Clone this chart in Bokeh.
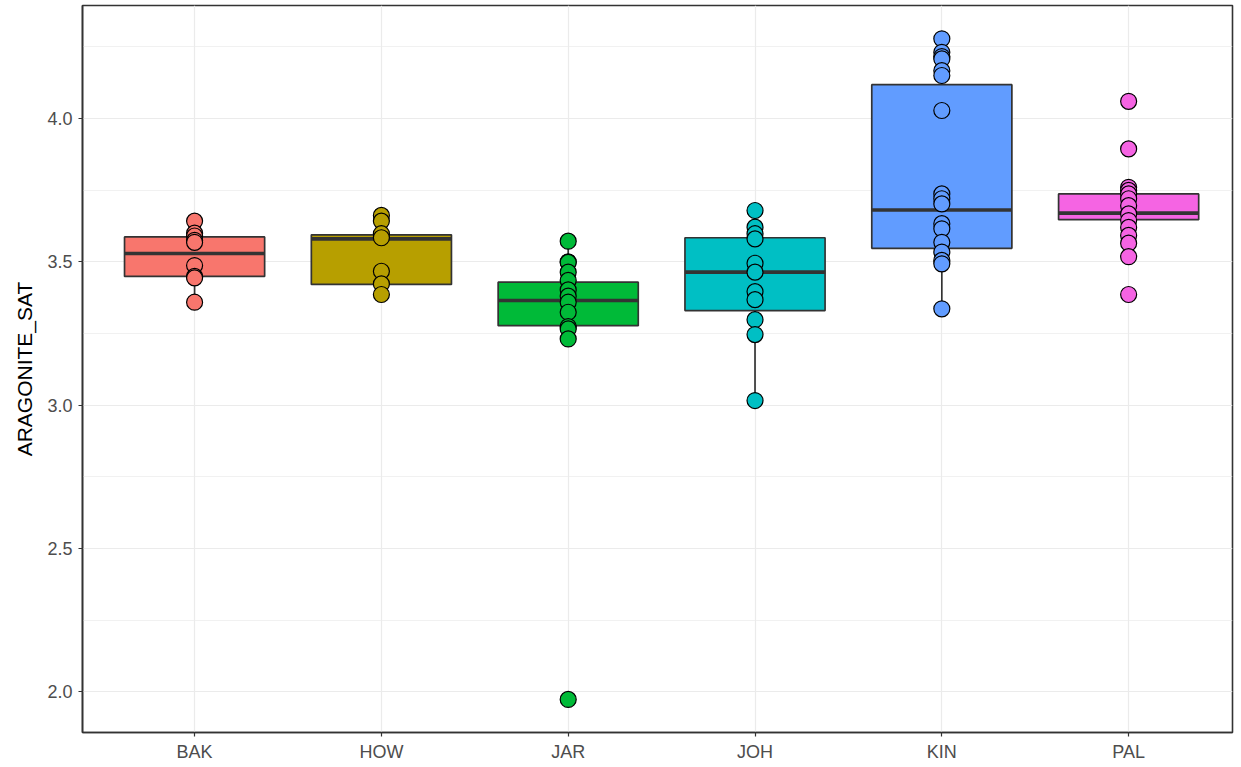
from bokeh.plotting import figure
from bokeh.models import FixedTicker, Range1d, ColumnDataSource
from bokeh.embed import file_html
from bokeh.resources import INLINE

# ---- data ----
sites = ["BAK", "HOW", "JAR", "JOH", "KIN", "PAL"]
colors = ["#F8766D", "#B79F00", "#00BA38", "#00BFC4", "#619CFF", "#F564E3"]

# box statistics
q1 = [3.449, 3.421, 3.277, 3.330, 3.547, 3.647]
median = [3.529, 3.580, 3.365, 3.464, 3.681, 3.670]
q3 = [3.587, 3.594, 3.429, 3.584, 4.118, 3.737]
whisker_low = [3.359, 3.386, 3.231, 3.016, 3.336, 3.518]
whisker_high = [3.642, 3.662, 3.572, 3.679, 4.278, 3.760]

# individual observations
bak_vals = [3.642, 3.600, 3.590, 3.575, 3.568, 3.487, 3.449, 3.444, 3.359]
how_vals = [3.662, 3.642, 3.598, 3.584, 3.467, 3.423, 3.386]
jar_vals = [3.572, 3.500, 3.498, 3.464, 3.435, 3.402, 3.380, 3.359, 3.324,
            3.274, 3.266, 3.231, 1.973]
joh_vals = [3.679, 3.621, 3.598, 3.580, 3.495, 3.464, 3.396, 3.368, 3.298,
            3.246, 3.016]
kin_vals = [4.278, 4.231, 4.216, 4.208, 4.167, 4.150, 4.028, 3.737, 3.720,
            3.702, 3.633, 3.615, 3.568, 3.534, 3.505, 3.493, 3.336]
pal_vals = [4.060, 3.894, 3.760, 3.749, 3.737, 3.720, 3.696, 3.667, 3.644,
            3.620, 3.592, 3.565, 3.518, 3.386]
site_vals = [bak_vals, how_vals, jar_vals, joh_vals, kin_vals, pal_vals]

y_ticks = [2.0, 2.5, 3.0, 3.5, 4.0]
y_minor = [2.25, 2.75, 3.25, 3.75, 4.25]

# ---- figure ----
FONT = "Liberation Sans"
p = figure(width=1240, height=766, output_backend="svg", toolbar_location=None,
           x_range=Range1d(0.4, 6.556), y_range=Range1d(1.8577, 4.3943),
           min_border_left=82, min_border_right=8, min_border_top=5,
           min_border_bottom=34)
p.background_fill_color = "white"
p.border_fill_color = "white"
p.outline_line_color = "#333333"
p.outline_line_width = 1.6

xpos = list(range(1, len(sites) + 1))
half = 0.375

box_src = ColumnDataSource(dict(
    x=xpos, q1=q1, med=median, q3=q3, lo=whisker_low, hi=whisker_high,
    left=[x - half for x in xpos], right=[x + half for x in xpos], color=colors))

# whiskers
p.segment(x0="x", x1="x", y0="q3", y1="hi", source=box_src,
          line_color="#333333", line_width=1.7)
p.segment(x0="x", x1="x", y0="lo", y1="q1", source=box_src,
          line_color="#333333", line_width=1.7)
# boxes
p.vbar(x="x", width=0.75, bottom="q1", top="q3", source=box_src,
       fill_color="color", line_color="#333333", line_width=1.7)
# medians
p.segment(x0="left", x1="right", y0="med", y1="med", source=box_src,
          line_color="#333333", line_width=3.6, line_cap="butt")

# points
px, py, pc = [], [], []
for x, vals, col in zip(xpos, site_vals, colors):
    for v in vals:
        px.append(x)
        py.append(v)
        pc.append(col)
pt_src = ColumnDataSource(dict(x=px, y=py, c=pc))
p.scatter(x="x", y="y", source=pt_src, marker="circle", size=16,
          fill_color="c", line_color="black", line_width=1.2)

# ---- axes ----
p.xaxis.ticker = FixedTicker(ticks=xpos)
p.xaxis.major_label_overrides = {x: s for x, s in zip(xpos, sites)}
p.yaxis.ticker = FixedTicker(ticks=y_ticks, minor_ticks=y_minor)
p.yaxis.major_label_overrides = {t: f"{t:.1f}" for t in y_ticks}

for ax in (p.xaxis, p.yaxis):
    ax.axis_line_color = "#333333"
    ax.axis_line_width = 1.6
    ax.major_tick_line_color = "#333333"
    ax.major_tick_line_width = 1.2
    ax.major_tick_out = 4
    ax.major_tick_in = 0
    ax.minor_tick_line_color = None
    ax.major_label_text_font = FONT
    ax.major_label_text_font_size = "18px"
    ax.major_label_text_color = "#4D4D4D"

p.xaxis.major_label_standoff = 5
p.yaxis.major_label_standoff = 6

p.yaxis.axis_label = "ARAGONITE_SAT"
p.yaxis.axis_label_text_font = FONT
p.yaxis.axis_label_text_font_size = "21px"
p.yaxis.axis_label_text_font_style = "normal"
p.yaxis.axis_label_text_color = "black"
p.yaxis.axis_label_standoff = 8

# ---- grid ----
p.xgrid.grid_line_color = "#EBEBEB"
p.xgrid.grid_line_width = 1.2
p.ygrid.grid_line_color = "#EBEBEB"
p.ygrid.grid_line_width = 1.2
p.ygrid.minor_grid_line_color = "#EBEBEB"
p.ygrid.minor_grid_line_width = 0.7

open("out.html", "w").write(file_html(p, INLINE))
